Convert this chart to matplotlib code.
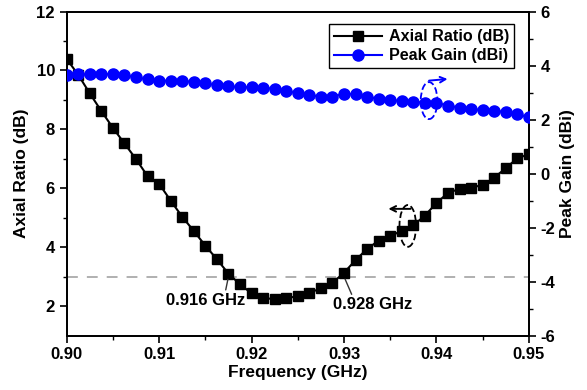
import matplotlib
matplotlib.use("Agg")
import matplotlib.pyplot as plt
from matplotlib.patches import Ellipse

plt.rcParams['font.family'] = ['Liberation Sans', 'DejaVu Sans']
plt.rcParams['font.weight'] = 'bold'
plt.rcParams['axes.unicode_minus'] = False

freq = [0.900, 0.90125, 0.9025, 0.90375, 0.905, 0.90625, 0.9075, 0.90875,
        0.910, 0.91125, 0.9125, 0.91375, 0.915, 0.91625, 0.9175, 0.91875,
        0.920, 0.92125, 0.9225, 0.92375, 0.925, 0.92625, 0.9275, 0.92875,
        0.930, 0.93125, 0.9325, 0.93375, 0.935, 0.93625, 0.9375, 0.93875,
        0.940, 0.94125, 0.9425, 0.94375, 0.945, 0.94625, 0.9475, 0.94875,
        0.950]

axial_ratio = [10.39, 9.85, 9.22, 8.62, 8.05, 7.52, 6.99, 6.41,
               6.15, 5.58, 5.03, 4.55, 4.05, 3.59, 3.10, 2.74,
               2.43, 2.28, 2.23, 2.26, 2.34, 2.45, 2.60, 2.79,
               3.13, 3.56, 3.94, 4.22, 4.38, 4.55, 4.74, 5.07,
               5.50, 5.84, 5.98, 6.02, 6.11, 6.36, 6.68, 7.02,
               7.15]

peak_gain = [3.65, 3.67, 3.67, 3.69, 3.67, 3.64, 3.56, 3.49,
             3.44, 3.44, 3.43, 3.39, 3.34, 3.27, 3.24, 3.19,
             3.20, 3.17, 3.14, 3.06, 2.97, 2.91, 2.84, 2.84,
             2.96, 2.93, 2.84, 2.76, 2.72, 2.69, 2.66, 2.62,
             2.62, 2.51, 2.44, 2.39, 2.35, 2.31, 2.29, 2.20,
             2.08]

ar_limit = 3
band_edges = [0.9175, 0.930]
band_labels = ["0.916 GHz", "0.928 GHz"]

fig = plt.figure(figsize=(5.87, 3.9), dpi=100)
ax = fig.add_axes([0.1136, 0.1397, 0.7874, 0.8308])
ax2 = ax.twinx()

ax.axhline(ar_limit, color="#aaaaaa", lw=1.3, dashes=(6, 5), zorder=1)
l1, = ax.plot(freq, axial_ratio, "-s", color="black", lw=1.5, ms=6.5,
              label="Axial Ratio (dB)", zorder=3)
l2, = ax2.plot(freq, peak_gain, "-o", color="#0000ff", lw=1.5, ms=8,
               label="Peak Gain (dBi)", zorder=3)

ax.set_xlim(0.90, 0.95)
ax.set_ylim(1, 12)
ax2.set_ylim(-6, 6)
ax.set_xticks([0.90, 0.91, 0.92, 0.93, 0.94, 0.95])
ax.set_xticks([0.905, 0.915, 0.925, 0.935, 0.945], minor=True)
ax.set_yticks([2, 4, 6, 8, 10, 12])
ax.set_yticks([3, 5, 7, 9, 11], minor=True)
ax2.set_yticks([-6, -4, -2, 0, 2, 4, 6])
ax2.set_yticks([-5, -3, -1, 1, 3, 5], minor=True)
ax.set_xticklabels(["0.90", "0.91", "0.92", "0.93", "0.94", "0.95"])

for a in (ax, ax2):
    a.tick_params(which="major", length=5, width=1.2, labelsize=12, direction="out")
    a.tick_params(which="minor", length=3, width=1.0, direction="out")
    for s in a.spines.values():
        s.set_linewidth(1.3)

ax.set_xlabel("Frequency (GHz)", fontsize=12.5, fontweight="bold", labelpad=2)
ax.set_ylabel("Axial Ratio (dB)", fontsize=12.5, fontweight="bold", labelpad=5)
ax2.set_ylabel("Peak Gain (dBi)", fontsize=12.5, fontweight="bold", labelpad=3)

# band edge annotations
ax.annotate(band_labels[0], xy=(band_edges[0], ar_limit), xytext=(0.9150, 2.2),
            ha="center", va="center", fontsize=12, fontweight="bold",
            arrowprops=dict(arrowstyle="-", color="#333333", lw=1.0,
                            shrinkA=0, shrinkB=2, relpos=(0.75, 1.0)))
ax.annotate(band_labels[1], xy=(band_edges[1], ar_limit), xytext=(0.9331, 2.05),
            ha="center", va="center", fontsize=12, fontweight="bold",
            arrowprops=dict(arrowstyle="-", color="#333333", lw=1.0,
                            shrinkA=0, shrinkB=2, relpos=(0.25, 1.0)))

# dashed ellipses with arrows pointing to axes
ax.add_patch(Ellipse((0.9369, 4.72), 0.0018, 1.42, fill=False, ls="--",
                     lw=1.3, color="black", zorder=4))
ax.annotate("", xy=(0.9348, 5.3), xytext=(0.9372, 5.3),
            arrowprops=dict(arrowstyle="->", color="black", lw=1.4,
                            shrinkA=0, shrinkB=0))
ax2.add_patch(Ellipse((0.9392, 2.7), 0.0018, 1.37, fill=False, ls="--",
                      lw=1.3, color="#0000ff", zorder=4))
ax2.annotate("", xy=(0.9412, 3.5), xytext=(0.9392, 3.44),
             arrowprops=dict(arrowstyle="->", color="#0000ff", lw=1.4,
                             shrinkA=0, shrinkB=0))

leg = ax.legend(handles=[l1, l2], loc="upper right", fontsize=11.6,
                fancybox=False, edgecolor="black", framealpha=1,
                handlelength=3.0, borderpad=0.3, labelspacing=0.25,
                handletextpad=0.4, bbox_to_anchor=(0.985, 0.985))
leg.get_frame().set_linewidth(1.0)
leg.set_zorder(10)

fig.savefig("out.png", dpi=100)
